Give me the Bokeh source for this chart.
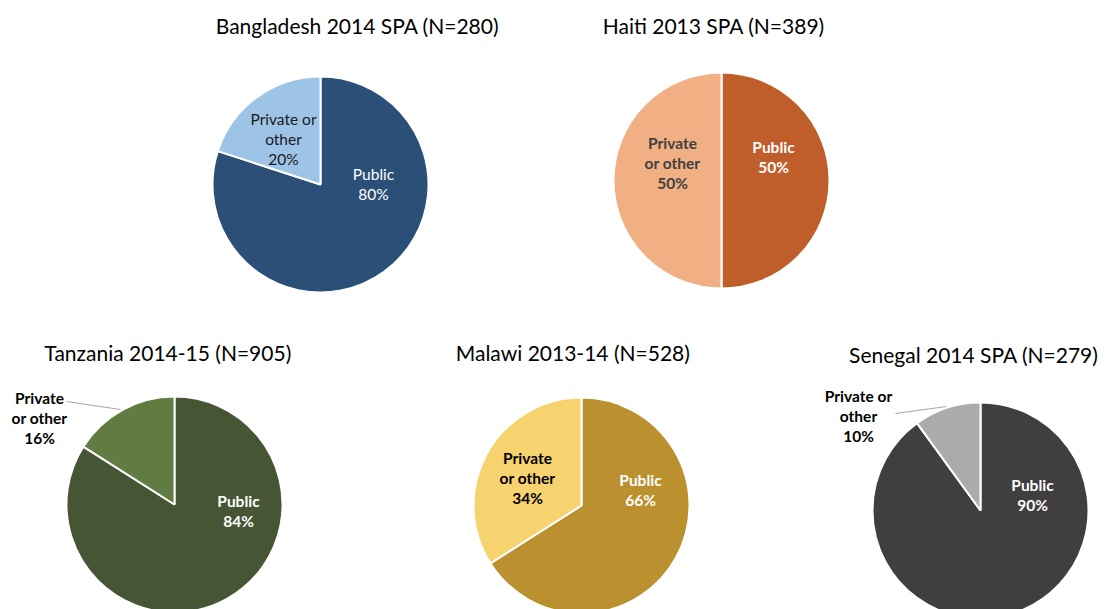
import math
from bokeh.plotting import figure
from bokeh.models import Range1d
from bokeh.core.properties import value
from bokeh.embed import file_html
from bokeh.resources import INLINE

# ---------------- data ----------------
surveys = ["Bangladesh 2014 SPA", "Haiti 2013 SPA", "Tanzania 2014-15", "Malawi 2013-14", "Senegal 2014 SPA"]
sample_sizes = [280, 389, 905, 528, 279]
public_pct = [80, 50, 84, 66, 90]
private_pct = [20, 50, 16, 34, 10]
public_name = "Public"
private_name_lines = [["Private or", "other"], ["Private", "or other"], ["Private", "or other"],
                      ["Private", "or other"], ["Private or", "other"]]

# ---------------- styles / layout ----------------
public_colors = ["#2C4F77", "#C05E2B", "#465533", "#BB902F", "#403E3F"]
private_colors = ["#9DC3E6", "#F0B084", "#617C42", "#F6D36F", "#ABAAAC"]
private_text_colors = ["#1a1a1a", "#404040", "#000000", "#000000", "#000000"]
bold = [False, True, True, True, True]
title_gap = [" ", "  ", "  ", "  ", "  "]
# pie centers in picture pixel coords (x, y from top)
centers = [(320, 184), (721, 180), (174, 504), (581, 505), (980, 510)]
radius = 108
title_pos = [(357, 25), (716, 25), (170, 352), (575, 352), (976, 354)]
pub_lab_off = [(53, -11), (52, -34), (64, -4), (59, -26), (52, -26)]
priv_lab_off = [(-37, -66), (-49, -38), (-135, -107), (-54, -48), (-122, -115)]
leaders = [None, None, ((66, 401), (120, 409)), None, ((895, 413), (946, 406))]

W, H = 1108, 609
FONT = "Lato"


def Y(img_y):
    return H - img_y


p = figure(width=W, height=H, output_backend="svg", toolbar_location=None,
           x_range=Range1d(0, W), y_range=Range1d(0, H),
           min_border=0, outline_line_color=None)
p.axis.visible = False
p.grid.visible = False
p.background_fill_color = "white"

for i in range(len(surveys)):
    cx, cy = centers[i]
    start = math.pi / 2
    mid = start + 2 * math.pi * private_pct[i] / 100.0
    end = start + 2 * math.pi * (private_pct[i] + public_pct[i]) / 100.0
    p.wedge(x=[cx], y=[Y(cy)], radius=radius, start_angle=[mid], end_angle=[end],
            fill_color=public_colors[i], line_color="white", line_width=2)
    p.wedge(x=[cx], y=[Y(cy)], radius=radius, start_angle=[start], end_angle=[mid],
            fill_color=private_colors[i], line_color="white", line_width=2)

    # title
    tx, ty = title_pos[i]
    p.text(x=[tx], y=[Y(ty)], text=[f"{surveys[i]}{title_gap[i]}(N={sample_sizes[i]})"],
           text_font=value(FONT), text_font_size="21px", text_color="#000000",
           text_align="center", text_baseline="middle")

    style = "bold" if bold[i] else "normal"
    # public label
    ox, oy = pub_lab_off[i]
    for k, line in enumerate([public_name, f"{public_pct[i]}%"]):
        p.text(x=[cx + ox], y=[Y(cy + oy + 20 * k)], text=[line],
               text_font=value(FONT), text_font_size="15.5px", text_font_style=style,
               text_color="white", text_align="center", text_baseline="middle")
    # private label
    ox, oy = priv_lab_off[i]
    lines = private_name_lines[i] + [f"{private_pct[i]}%"]
    for k, line in enumerate(lines):
        p.text(x=[cx + ox], y=[Y(cy + oy + 20 * k)], text=[line],
               text_font=value(FONT), text_font_size="15.5px", text_font_style=style,
               text_color=private_text_colors[i], text_align="center", text_baseline="middle")
    if leaders[i] is not None:
        (x0, y0), (x1, y1) = leaders[i]
        p.segment(x0=[x0], y0=[Y(y0)], x1=[x1], y1=[Y(y1)], line_color="#A6A6A6", line_width=1)

open("out.html", "w").write(file_html(p, INLINE))
